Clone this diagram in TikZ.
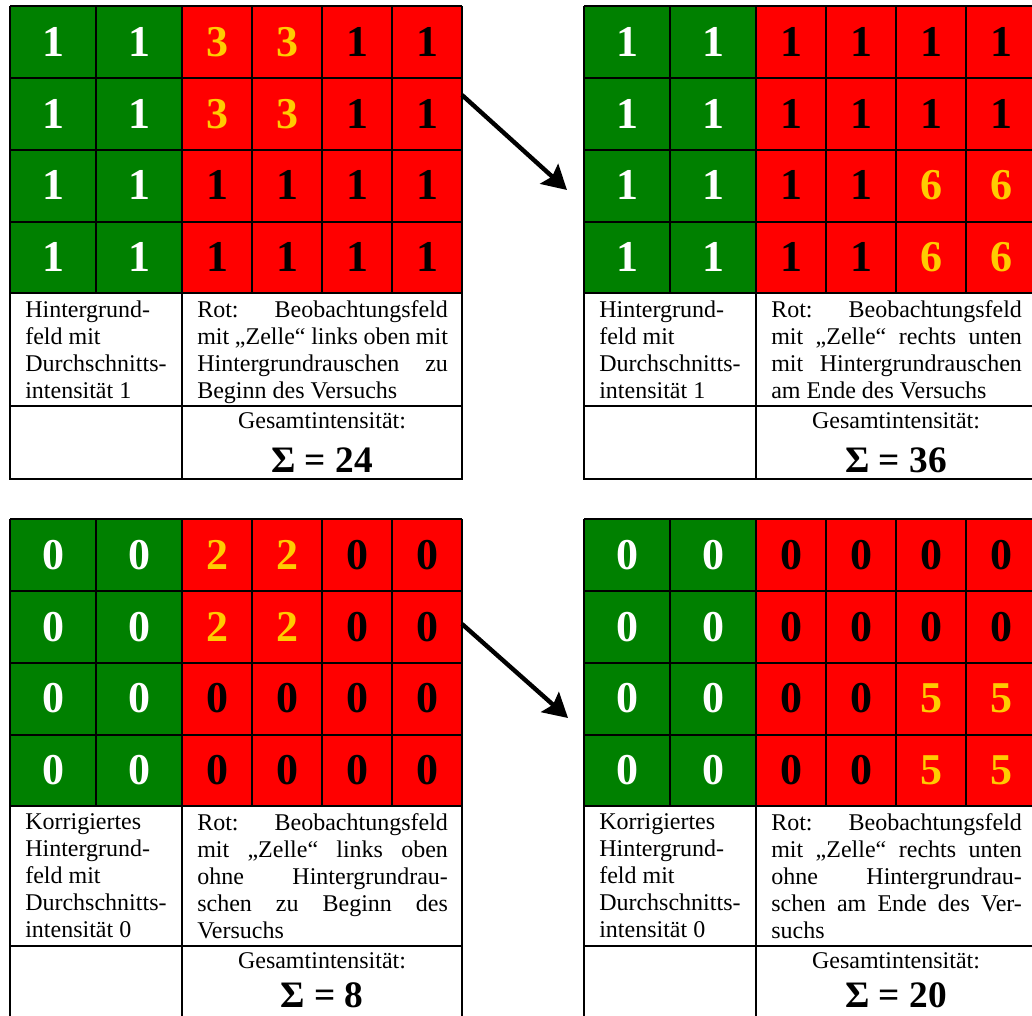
\documentclass[tikz,border=0pt]{standalone}
\usepackage{fontspec}
\setmainfont{Liberation Serif}
\usetikzlibrary{arrows.meta}
\definecolor{feldgruen}{RGB}{0,128,0}
\definecolor{feldrot}{RGB}{255,0,0}
\definecolor{zellgelb}{RGB}{255,204,0}

% #1 name, #2 origin, #3 background value, #4 rows, #5 height of text row,
% #6 left text, #7 right text, #8 sum, #9 baseline of the sum
\newcommand{\messfeld}[9]{%
  \begin{scope}[shift={#2}]
    \fill[feldgruen] (0,0) rectangle (172,287);
    \fill[feldrot] (172,0) rectangle (452,287);
    \foreach \zeile [count=\r] in {#4} {
      \foreach \wert [count=\c] in \zeile {
        \pgfmathsetmacro{\mx}{{43,129,207,277,347,417}[\c-1]}
        \pgfmathsetmacro{\my}{36+71.7*(\r-1)}
        \ifnum\c<3 \def\farbe{white}\else\ifnum\wert=#3 \def\farbe{black}\else\def\farbe{zellgelb}\fi\fi
        \node[zahl,text=\farbe] (#1-\r-\c) at (\mx,\my) {\wert};
      }
    }
    \foreach \gx in {0,86,172,242,312,382,452}
      \draw[gitter] (\gx,0) -- (\gx,287);
    \foreach \gy in {0,72,144,216,287}
      \draw[gitter] (0,\gy) -- (452,\gy);
    \draw[gitter] (0,287) rectangle (452,{287+#5+73});
    \draw[gitter] (172,287) -- (172,{287+#5+73});
    \draw[gitter] (0,{287+#5}) -- (452,{287+#5});
    \node[feldtext,anchor=north west] (#1-links) at (0,287) {#6};
    \node[feldtext,anchor=north west,text width=188pt,align=justify] (#1-rechts) at (172,287) {#7};
    \node[anchor=base,font=\fontsize{18}{20}\selectfont] (#1-gesamt) at (312,{287+#5+22}) {Gesamtintensität:};
    \node[anchor=base,font=\fontsize{28}{32}\selectfont\bfseries,inner sep=1pt] (#1-summe) at (312,{287+#5+#9}) {Σ = #8};
  \end{scope}}

\begin{document}
\begin{tikzpicture}[x=0.75pt,y=-0.75pt,
    zahl/.style={font=\fontsize{33}{36}\selectfont\bfseries,inner sep=0pt},
    gitter/.style={black,line width=1pt},
    feldtext/.style={font=\fontsize{18}{20.25}\selectfont,align=left,inner xsep=11.25pt,inner ysep=5.5pt},
    pfeil/.style={line width=3.3pt,-{Stealth[length=18pt,width=20pt,inset=3pt]}}]
  \useasboundingbox (0,0) rectangle (1032,1016);
  \clip (0,0) rectangle (1032,1016);

  \messfeld{obenlinks}{(10,6)}{1}{{1,1,3,3,1,1},{1,1,3,3,1,1},{1,1,1,1,1,1},{1,1,1,1,1,1}}{113}
    {Hintergrund-\\feld mit\\Durchschnitts-\\intensität 1}
    {Rot: Beobachtungsfeld\linebreak mit „Zelle“ links oben mit\linebreak Hintergrundrauschen zu\linebreak Beginn des Versuchs}{24}{66}
  \messfeld{obenrechts}{(584,6)}{1}{{1,1,1,1,1,1},{1,1,1,1,1,1},{1,1,1,1,6,6},{1,1,1,1,6,6}}{113}
    {Hintergrund-\\feld mit\\Durchschnitts-\\intensität 1}
    {Rot: Beobachtungsfeld\linebreak mit „Zelle“ rechts unten\linebreak mit Hintergrundrauschen\linebreak am Ende des Versuchs}{36}{66}
  \messfeld{untenlinks}{(10,519)}{0}{{0,0,2,2,0,0},{0,0,2,2,0,0},{0,0,0,0,0,0},{0,0,0,0,0,0}}{140}
    {Korrigiertes\\Hintergrund-\\feld mit\\Durchschnitts-\\intensität 0}
    {Rot: Beobachtungsfeld\linebreak mit „Zelle“ links oben\linebreak ohne Hintergrundrau-\linebreak schen zu Beginn des\linebreak Versuchs}{8}{61}
  \messfeld{untenrechts}{(584,519)}{0}{{0,0,0,0,0,0},{0,0,0,0,0,0},{0,0,0,0,5,5},{0,0,0,0,5,5}}{140}
    {Korrigiertes\\Hintergrund-\\feld mit\\Durchschnitts-\\intensität 0}
    {Rot: Beobachtungsfeld\linebreak mit „Zelle“ rechts unten\linebreak ohne Hintergrundrau-\linebreak schen am Ende des Ver-\linebreak suchs}{20}{61}

  % arrows between the fields
  \coordinate (pfeilobenA) at (462,95);
  \coordinate (pfeilobenB) at (567,190);
  \coordinate (pfeiluntenA) at (462,624);
  \coordinate (pfeiluntenB) at (568,718);
  \draw[pfeil] (pfeilobenA) -- (pfeilobenB);
  \draw[pfeil] (pfeiluntenA) -- (pfeiluntenB);
\end{tikzpicture}
\end{document}
